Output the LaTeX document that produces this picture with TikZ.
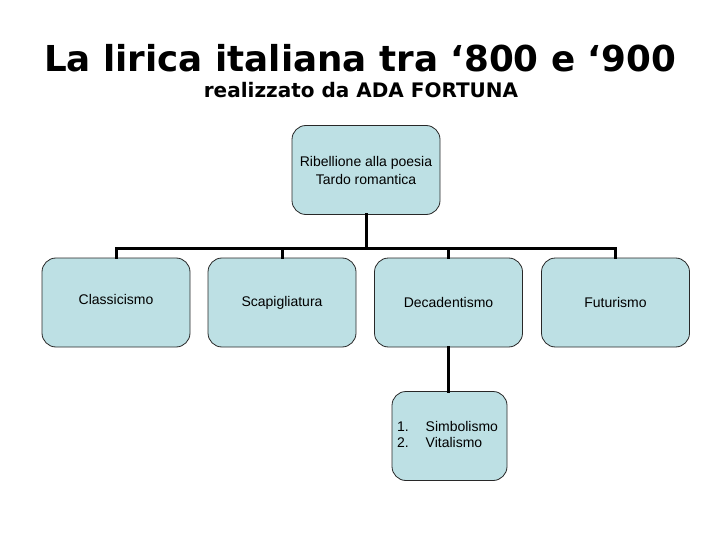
\documentclass[tikz,border=0pt]{standalone}
\usepackage{fontspec}
\setmainfont{Liberation Sans}
\newfontfamily\titlefont{DejaVu Sans}
\usepackage{xcolor}
\definecolor{boxfill}{RGB}{189,224,228}
\definecolor{boxline}{RGB}{40,40,40}

\begin{document}
\begin{tikzpicture}[
    x=1pt, y=-1pt,
    box/.style={draw=boxline, line width=0.8pt, fill=boxfill,
        rounded corners=14pt, minimum width=148pt, minimum height=89pt,
        font=\fontsize{14}{18}\selectfont, align=center, inner sep=0pt},
    link/.style={line width=3pt, line cap=rect}
]

% Frame
\useasboundingbox (0,0) rectangle (720,540);

% Title
\node[font=\titlefont\bfseries\fontsize{35.7}{36}\selectfont, anchor=base] (title) at (360,72)
    {La lirica italiana tra ‘800 e ‘900};
\node[font=\titlefont\bfseries\fontsize{20}{20}\selectfont, anchor=base] (subtitle) at (361,98)
    {realizzato da ADA FORTUNA};

% Boxes
\node[box] (root) at (366,170) {Ribellione alla poesia\\Tardo romantica};
\node[box] (classic) at (116,302.5) {\raisebox{7pt}{Classicismo}};
\node[box] (scapi) at (282,302.5) {Scapigliatura};
\node[box] (deca) at (448.5,302.5) {Decadentismo};
\node[box] (futu) at (615.5,302.5) {Futurismo};
\node[box, minimum width=115pt, text width=105pt, inner xsep=5pt, align=left,
    font=\fontsize{14}{16}\selectfont] (simbo) at (449.5,436)
    {\begin{tabular}{@{}l@{\hspace{17pt}}l@{}}1.&Simbolismo\\2.&Vitalismo\end{tabular}};

% Connectors
\coordinate (bus) at (366,248);
\draw[link] (root.south) -- (bus);
\draw[link] (classic.north) |- (bus);
\draw[link] (scapi.north) |- (bus);
\draw[link] (deca.north) |- (bus);
\draw[link] (futu.north) |- (bus);
\draw[link] (deca.south) -- (deca.south |- simbo.north);

\end{tikzpicture}
\end{document}
